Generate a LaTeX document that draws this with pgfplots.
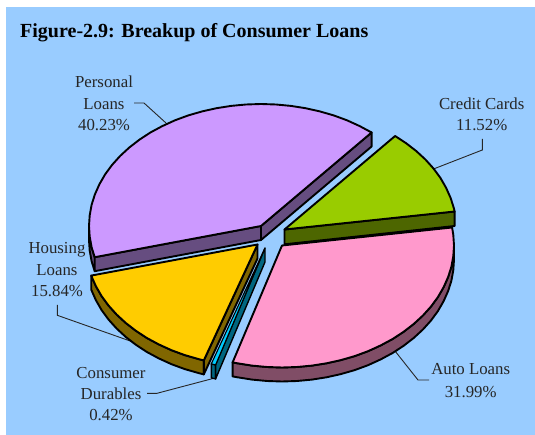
\documentclass[border=0pt]{standalone}
\usepackage{pgfplots}
\pgfplotsset{compat=1.18}
\usepackage{fontspec}
\setmainfont{Liberation Serif}
\definecolor{bgblue}{HTML}{99CCFF}
\definecolor{persTop}{HTML}{CC99FF}\definecolor{persSide}{HTML}{664D80}
\definecolor{credTop}{HTML}{99CC00}\definecolor{credSide}{HTML}{4D6600}
\definecolor{housTop}{HTML}{FFCC00}\definecolor{housSide}{HTML}{806600}
\definecolor{duraTop}{HTML}{00CCFF}\definecolor{duraSide}{HTML}{006680}
\definecolor{autoTop}{HTML}{FF99CC}\definecolor{autoSide}{HTML}{804D66}
\pgfplotsset{
  face/.style={draw=black,line width=1.9pt,line join=round,fill=#1,mark=none},
  leader/.style={draw=black!85,line width=0.9pt,mark=none},
}
\newcommand{\lab}[3]{\node[anchor=base,inner sep=0pt,font=\fontsize{16.8}{16.8}\selectfont,text=black!85] at (axis cs:#1,#2) {#3};}
\begin{document}
\begin{tikzpicture}
\begin{axis}[
  scale only axis,width=535pt,height=435pt,
  xmin=0,xmax=535,ymin=0,ymax=435,y dir=reverse,
  axis lines=none,clip=true]
% panel
\addplot[fill=white,draw=none,mark=none] coordinates {(0,0)(535,0)(535,435)(0,435)} --cycle;
\addplot[fill=bgblue,draw=none,mark=none] coordinates {(6,7)(535,7)(535,435)(6,435)} --cycle;

% leader lines
\addplot[leader] coordinates {(134,103)(144,103)(166,123)};
\addplot[leader] coordinates {(482.3,139)(482.3,150)(434,168.8)};
\addplot[leader] coordinates {(395,351)(418,380)(429,380)};
\addplot[leader] coordinates {(147,393.3)(157,393.3)(213,378.5)};
\addplot[leader] coordinates {(57.3,305)(57.3,315.3)(133,342)};

% Personal Loans, 40.23%
\addplot[face=persSide] coordinates {(89,226)(89.7,236.6)(91.6,247.2)(94.7,257.2)(94.7,271.2)(91.6,261.2)(89.7,250.6)(89,240)} --cycle;
\addplot[face=persSide] coordinates {(261,226)(371.6,132.5)(371.6,146.5)(261,240)} --cycle;
\addplot[face=persSide] coordinates {(94.7,257.2)(261,226)(261,240)(94.7,271.2)} --cycle;
\addplot[face=persTop] coordinates {(261,226)(371.6,132.5)(359.7,126.1)(347.0,120.3)(333.7,115.4)(319.8,111.4)(305.5,108.2)(290.9,105.9)(276.0,104.5)(261,104)(246.0,104.5)(231.1,105.9)(216.5,108.2)(202.2,111.4)(188.3,115.4)(175.0,120.3)(162.3,126.1)(150.4,132.5)(139.4,139.7)(129.2,147.6)(120.1,156.0)(112.0,165.0)(105.1,174.4)(99.4,184.3)(94.9,194.4)(91.6,204.8)(89.7,215.4)(89,226)(89.7,236.6)(91.6,247.2)(94.7,257.2)} --cycle;

% Housing Loans, 15.84%
\addplot[face=housSide] coordinates {(91.2,275.6)(95.9,286.2)(101.6,296.1)(108.5,305.5)(116.6,314.5)(125.7,322.9)(135.9,330.8)(146.9,338)(158.8,344.4)(171.5,350.2)(184.8,355.1)(198.7,359.1)(203.8,360.4)(203.8,374.4)(198.7,373.1)(184.8,369.1)(171.5,364.2)(158.8,358.4)(146.9,352)(135.9,344.8)(125.7,336.9)(116.6,328.5)(108.5,319.5)(101.6,310.1)(95.9,300.2)(91.2,289.6)} --cycle;
\addplot[face=housSide] coordinates {(257.5,244.5)(203.8,360.4)(203.8,374.4)(257.5,258.5)} --cycle;
\addplot[face=housTop] coordinates {(257.5,244.5)(91.2,275.6)(95.9,286.2)(101.6,296.1)(108.5,305.5)(116.6,314.5)(125.7,322.9)(135.9,330.8)(146.9,338)(158.8,344.4)(171.5,350.2)(184.8,355.1)(198.7,359.1)(203.8,360.4)} --cycle;

% Consumer Durables, 0.42%
\addplot[face=duraSide,line width=1.4pt] coordinates {(211.3,363.9)(215.6,364.9)(215.6,378.9)(211.3,377.9)} --cycle;
\addplot[face=duraSide,line width=1.4pt] coordinates {(265,248)(215.6,364.9)(215.6,378.9)(265,262)} --cycle;
\addplot[draw=black,line width=1.1pt,fill=duraTop,mark=none] coordinates {(265,248)(211.3,363.9)(215.6,364.9)} --cycle;

% Auto Loans, 31.99%
\addplot[face=autoSide] coordinates {(232.6,362.4)(237.5,363.3)(252.1,365.6)(267,367)(282,367.5)(297,367)(311.9,365.6)(326.5,363.3)(340.8,360.1)(354.7,356.1)(368,351.2)(380.7,345.4)(392.6,339)(403.6,331.8)(413.8,323.9)(422.9,315.5)(431,306.5)(437.9,297.1)(443.6,287.2)(448.1,277.1)(451.4,266.7)(453.3,256.1)(454,245.5)(454,259.5)(453.3,270.1)(451.4,280.7)(448.1,291.1)(443.6,301.2)(437.9,311.1)(431,320.5)(422.9,329.5)(413.8,337.9)(403.6,345.8)(392.6,353)(380.7,359.4)(368,365.2)(354.7,370.1)(340.8,374.1)(326.5,377.3)(311.9,379.6)(297,381)(282,381.5)(267,381)(252.1,379.6)(237.5,377.3)(232.6,376.4)} --cycle;
\addplot[face=autoTop] coordinates {(282,245.5)(232.6,362.4)(237.5,363.3)(252.1,365.6)(267,367)(282,367.5)(297,367)(311.9,365.6)(326.5,363.3)(340.8,360.1)(354.7,356.1)(368,351.2)(380.7,345.4)(392.6,339)(403.6,331.8)(413.8,323.9)(422.9,315.5)(431,306.5)(437.9,297.1)(443.6,287.2)(448.1,277.1)(451.4,266.7)(453.3,256.1)(454,245.5)(453.3,234.9)(452.1,227.5)} --cycle;

% Credit Cards, 11.52%
\addplot[face=credSide] coordinates {(284.5,229.5)(454.6,211.5)(454.6,226)(284.5,244.3)} --cycle;
\addplot[face=credTop] coordinates {(284.5,229.5)(454.6,211.5)(453.9,208.3)(450.6,197.9)(446.1,187.8)(440.4,177.9)(433.5,168.5)(425.4,159.5)(416.3,151.1)(406.1,143.2)(395.1,136)} --cycle;

% title and labels
\node[anchor=base west,inner sep=0pt,font=\fontsize{20}{20}\selectfont\bfseries] at (axis cs:20,37.3) {Figure-2.9: Breakup of Consumer Loans};
\lab{104}{87.5}{Personal}
\lab{104}{109.5}{Loans}
\lab{104}{130.5}{40.23\%}
\lab{481.7}{109.5}{Credit Cards}
\lab{481.7}{131}{11.52\%}
\lab{57}{253.5}{Housing}
\lab{57}{275.5}{Loans}
\lab{57}{297}{15.84\%}
\lab{111}{378}{Consumer}
\lab{111}{399}{Durables}
\lab{111}{420.5}{0.42\%}
\lab{470.7}{374.5}{Auto Loans}
\lab{470.7}{397}{31.99\%}
\end{axis}
\end{tikzpicture}
\end{document}
